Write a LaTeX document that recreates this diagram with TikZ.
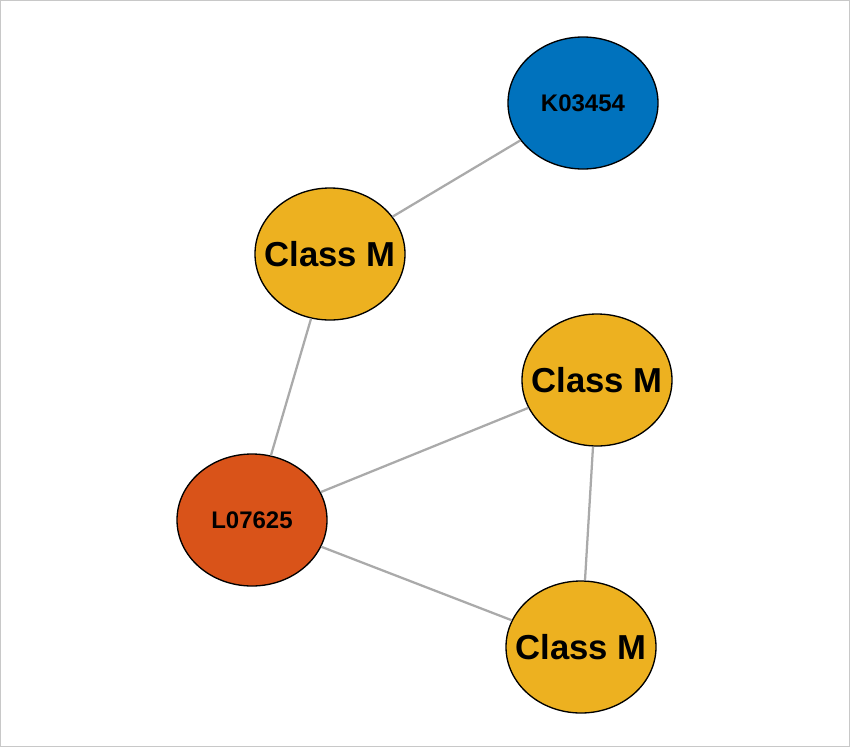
\documentclass[tikz,border=0pt]{standalone}
\usepackage{fontspec}
\setmainfont{Liberation Sans}
\usetikzlibrary{shapes.geometric}
\definecolor{gene}{RGB}{237,177,32}
\definecolor{kblue}{RGB}{0,114,189}
\definecolor{lred}{RGB}{217,83,25}
\definecolor{edgegray}{RGB}{170,170,170}
\definecolor{framegray}{RGB}{200,200,200}
\begin{document}
\begin{tikzpicture}[
                x=0.75pt, y=-0.75pt,
                vertex/.style={ellipse, draw=black, line width=1pt, inner ysep=0pt, inner xsep=-15pt,
                    minimum width=112.5pt, minimum height=99pt, font=\bfseries},
                link/.style={draw=edgegray, line width=1.7pt},
            ]
                \useasboundingbox (0, 0) rectangle (850, 747);
                \draw[framegray, line width=1pt] (0.7, 0.7) rectangle (849.3, 746.3);
                \node[vertex, fill=kblue, font=\bfseries\fontsize{18}{20}\selectfont] (kgene) at (583, 103) {K03454};
                \node[vertex, fill=gene, font=\bfseries\fontsize{26}{28}\selectfont] (classtop) at (330, 254) {Class M};
                \node[vertex, fill=gene, font=\bfseries\fontsize{26}{28}\selectfont] (classright) at (597, 380) {Class M};
                \node[vertex, fill=lred, font=\bfseries\fontsize{18}{20}\selectfont] (lgene) at (252, 520) {L07625};
                \node[vertex, fill=gene, font=\bfseries\fontsize{26}{28}\selectfont] (classbottom) at (581, 647) {Class M};
                \path[link] (classtop) -- (kgene);
                \path[link] (classtop) -- (lgene);
                \path[link] (lgene) -- (classright);
                \path[link] (lgene) -- (classbottom);
                \path[link] (classright) -- (classbottom);

            \end{tikzpicture}
\end{document}
